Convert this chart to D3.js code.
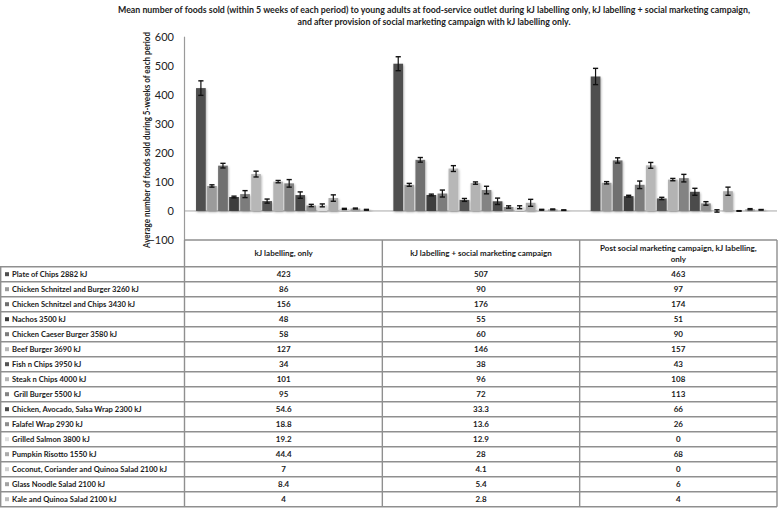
<!DOCTYPE html>
<html>
<head>
<meta charset="utf-8">
<script src="https://cdn.jsdelivr.net/npm/d3@7"></script>
<style>
  html, body { margin: 0; padding: 0; background: #fff; }
  svg { display: block; }
  text { font-family: "Lato", "Liberation Sans", sans-serif; }
</style>
</head>
<body>
<svg id="chart" width="778" height="511"></svg>
<script>
const titleLines = [
  "Mean number of foods sold (within 5 weeks of each period) to young adults at food-service outlet during kJ labelling only, kJ labelling + social marketing campaign,",
  "and after provision of social marketing campaign with kJ labelling only."
];
const yTitle = "Average number of foods sold during 5-weeks of each period";
const periods = ["kJ labelling, only", "kJ labelling + social marketing campaign", "Post social marketing campaign, kJ labelling, only"];
const periodHeaderLines = [["kJ labelling, only"], ["kJ labelling + social marketing campaign"], ["Post social marketing campaign, kJ labelling,", "only"]];
const foods = [
  "Plate of Chips 2882 kJ",
  "Chicken Schnitzel and Burger 3260 kJ",
  "Chicken Schnitzel and Chips 3430 kJ",
  "Nachos 3500 kJ",
  "Chicken Caeser Burger 3580 kJ",
  "Beef Burger 3690 kJ",
  "Fish n Chips 3950 kJ",
  "Steak n Chips 4000 kJ",
  " Grill Burger 5500 kJ",
  "Chicken, Avocado, Salsa Wrap 2300 kJ",
  "Falafel Wrap 2930 kJ",
  "Grilled Salmon 3800 kJ",
  "Pumpkin Risotto 1550 kJ",
  "Coconut, Coriander and Quinoa Salad 2100 kJ",
  "Glass Noodle Salad 2100 kJ",
  "Kale and Quinoa Salad 2100 kJ"
];
const foodColors = ["#4f4f4f", "#9b9b9b", "#6f6f6f", "#3d3d3d", "#7c7c7c", "#b7b7b7", "#545454", "#b3b3b3",
                    "#838383", "#4c4c4c", "#8e8e8e", "#dedede", "#ababab", "#cfcfcf", "#a3a3a3", "#bdbdbd"];
const valuesKjOnly   = [423, 86, 156, 48, 58, 127, 34, 101, 95, 54.6, 18.8, 19.2, 44.4, 7, 8.4, 4];
const valuesKjSocial = [507, 90, 176, 55, 60, 146, 38, 96, 72, 33.3, 13.6, 12.9, 28, 4.1, 5.4, 2.8];
const valuesPost     = [463, 97, 174, 51, 90, 157, 43, 108, 113, 66, 26, 0, 68, 0, 6, 4];
const errKjOnly   = [25, 4, 8, 3, 12, 10, 7, 4, 13, 11, 4, 5, 11, 2, 1.5, 1.5];
const errKjSocial = [24, 5, 8, 3, 12, 10, 5, 4, 13, 11, 4, 5, 12, 1.5, 1.5, 1];
const errPost     = [28, 4, 9, 3, 13, 10, 4, 4, 13, 12, 6, 4, 14, 1, 2, 1];
const yTicks = [-100, 0, 100, 200, 300, 400, 500, 600];

const periodValues = [valuesKjOnly, valuesKjSocial, valuesPost];
const periodErrors = [errKjOnly, errKjSocial, errPost];

const svg = d3.select("#chart");
const plotLeft = 185, plotRight = 777, plotTop = 36.7, plotBottom = 240;
const headerBottom = 266.7, rowH = 15;

const defs = svg.append("defs");
const flt = defs.append("filter").attr("id", "shadow").attr("x", "-50%").attr("y", "-10%").attr("width", "200%").attr("height", "130%");
flt.append("feDropShadow").attr("dx", 0.8).attr("dy", 1.2).attr("stdDeviation", 1).attr("flood-color", "#000").attr("flood-opacity", 0.3);

// Title
svg.selectAll("text.title").data(titleLines).join("text")
  .attr("class", "title")
  .attr("x", 434).attr("y", (d, i) => 13 + i * 12)
  .attr("text-anchor", "middle")
  .attr("font-size", 9).attr("font-weight", "bold").attr("fill", "#222")
  .attr("textLength", (d, i) => i === 0 ? 632 : 273)
  .attr("lengthAdjust", "spacingAndGlyphs")
  .text(d => d);

const x0 = d3.scaleBand().domain(periods).range([plotLeft, plotRight]).paddingInner(0).paddingOuter(0);
const x1 = d3.scaleBand().domain(foods).range([0, x0.bandwidth()]).paddingInner(0.12).paddingOuter(1.0);
const y = d3.scaleLinear().domain([-100, 600]).range([plotBottom, plotTop]);

// Y axis labels
const yAxis = d3.axisLeft(y).tickValues(yTicks).tickSize(0).tickPadding(0).tickFormat(d3.format("d"));
const gy = svg.append("g").attr("transform", `translate(174,0)`).call(yAxis);
gy.select(".domain").remove();
gy.selectAll("text").attr("font-family", "Liberation Sans, Arial, sans-serif").attr("font-size", 11).attr("fill", "#222");

// Y axis line
svg.append("line").attr("x1", plotLeft - 0.5).attr("x2", plotLeft - 0.5).attr("y1", y(600)).attr("y2", plotBottom)
  .attr("stroke", "#9a9a9a").attr("stroke-width", 1.2);

// Y title
svg.append("text")
  .attr("transform", `translate(150,${(30 + 250) / 2}) rotate(-90)`)
  .attr("text-anchor", "middle")
  .attr("font-size", 8.5).attr("font-weight", "bold").attr("fill", "#222")
  .attr("textLength", 216).attr("lengthAdjust", "spacingAndGlyphs")
  .text(yTitle);

// Zero line
svg.append("line").attr("x1", plotLeft).attr("x2", plotRight).attr("y1", y(0)).attr("y2", y(0))
  .attr("stroke", "#a8a8a8").attr("stroke-width", 1);

// Bars
const groups = svg.append("g").selectAll("g").data(periods).join("g")
  .attr("transform", d => `translate(${x0(d)},0)`);

groups.each(function(p, pi) {
  const g = d3.select(this);
  const data = foods.map((fd, i) => ({ food: fd, v: periodValues[pi][i], e: periodErrors[pi][i], c: foodColors[i] }));
  g.selectAll("rect").data(data).join("rect")
    .attr("x", d => x1(d.food))
    .attr("width", x1.bandwidth())
    .attr("y", d => y(Math.max(0, d.v)))
    .attr("height", d => Math.max(0.8, Math.abs(y(0) - y(d.v))))
    .attr("fill", d => d.c)
    .attr("filter", "url(#shadow)");
  const eb = g.selectAll("g.err").data(data).join("g").attr("class", "err");
  const cap = 2.6;
  eb.append("line")
    .attr("x1", d => x1(d.food) + x1.bandwidth() / 2).attr("x2", d => x1(d.food) + x1.bandwidth() / 2)
    .attr("y1", d => y(d.v - d.e)).attr("y2", d => y(d.v + d.e))
    .attr("stroke", "#111").attr("stroke-width", 1.2);
  eb.append("line")
    .attr("x1", d => x1(d.food) + x1.bandwidth() / 2 - cap).attr("x2", d => x1(d.food) + x1.bandwidth() / 2 + cap)
    .attr("y1", d => y(d.v + d.e)).attr("y2", d => y(d.v + d.e))
    .attr("stroke", "#111").attr("stroke-width", 1.4);
  eb.append("line")
    .attr("x1", d => x1(d.food) + x1.bandwidth() / 2 - cap).attr("x2", d => x1(d.food) + x1.bandwidth() / 2 + cap)
    .attr("y1", d => y(d.v - d.e)).attr("y2", d => y(d.v - d.e))
    .attr("stroke", "#111").attr("stroke-width", 1.4);
});

// Table
const gridColor = "#8f8f8f";
const tableBottom = headerBottom + rowH * foods.length;
const tg = svg.append("g");
tg.append("line").attr("x1", plotLeft - 0.5).attr("x2", plotRight).attr("y1", plotBottom).attr("y2", plotBottom)
  .attr("stroke", gridColor).attr("stroke-width", 1.4);
d3.range(foods.length + 1).forEach(i => {
  tg.append("line").attr("x1", 0).attr("x2", plotRight)
    .attr("y1", headerBottom + i * rowH).attr("y2", headerBottom + i * rowH)
    .attr("stroke", gridColor).attr("stroke-width", 1.4);
});
tg.append("line").attr("x1", 0.7).attr("x2", 0.7).attr("y1", headerBottom).attr("y2", tableBottom).attr("stroke", gridColor).attr("stroke-width", 1.4);
[plotLeft - 0.5, x0(periods[1]), x0(periods[2]), plotRight].forEach(xv => {
  tg.append("line").attr("x1", xv).attr("x2", xv).attr("y1", plotBottom).attr("y2", tableBottom)
    .attr("stroke", gridColor).attr("stroke-width", 1.4);
});

periods.forEach((p, pi) => {
  const lines = periodHeaderLines[pi];
  const cx = x0(p) + x0.bandwidth() / 2;
  const cy = (plotBottom + headerBottom) / 2;
  lines.forEach((ln, li) => {
    tg.append("text").attr("x", cx)
      .attr("y", cy + 3 + (li - (lines.length - 1) / 2) * 10.5)
      .attr("text-anchor", "middle").attr("font-size", 8).attr("font-weight", "bold").attr("fill", "#1a1a1a")
      .text(ln);
  });
});

foods.forEach((fd, i) => {
  const cy = headerBottom + i * rowH + rowH / 2;
  tg.append("rect").attr("x", 5).attr("y", cy - 2).attr("width", 4).attr("height", 4).attr("fill", foodColors[i]);
  tg.append("text").attr("x", 12).attr("y", cy + 3)
    .attr("font-size", 7.6).attr("font-weight", "bold").attr("fill", "#1a1a1a")
    .attr("xml:space", "preserve")
    .text(fd);
  periods.forEach((p, pi) => {
    tg.append("text").attr("x", x0(p) + x0.bandwidth() / 2).attr("y", cy + 3)
      .attr("text-anchor", "middle").attr("font-size", 8).attr("font-weight", "bold").attr("fill", "#1a1a1a")
      .text(periodValues[pi][i]);
  });
});
</script>
</body>
</html>
